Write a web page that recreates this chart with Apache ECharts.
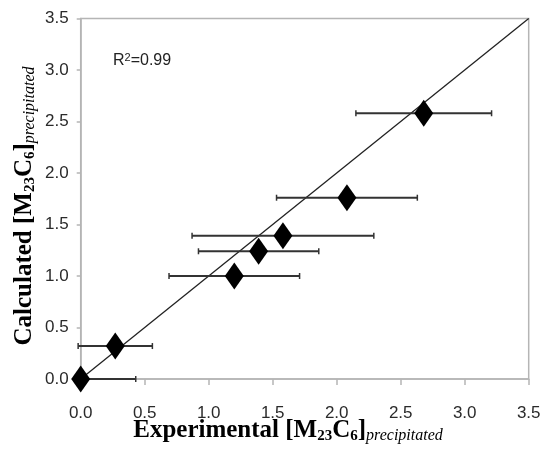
<!DOCTYPE html>
<html>
<head>
<meta charset="utf-8">
<script src="https://cdn.jsdelivr.net/npm/echarts@6/dist/echarts.min.js"></script>
<style>html,body{margin:0;padding:0;background:#fff;}#c{width:546px;height:466px;}</style>
</head>
<body>
<div id="c"></div>
<script>
// Data
var experimental = [0.00, 0.27, 1.20, 1.39, 1.58, 2.08, 2.68];
var calculated   = [0.00, 0.32, 1.00, 1.24, 1.39, 1.76, 2.58];
var xError       = [0.43, 0.29, 0.51, 0.47, 0.71, 0.55, 0.53];
var trendX = [0, 3.5];
var trendY = [0, 3.5];
var axisTicks = [0, 0.5, 1.0, 1.5, 2.0, 2.5, 3.0, 3.5];

var points = experimental.map(function (x, i) { return [x, calculated[i]]; });
var errData = experimental.map(function (x, i) { return [x, calculated[i], xError[i]]; });
var trend = trendX.map(function (x, i) { return [x, trendY[i]]; });

var tickFont = '"Liberation Sans Narrow","Arial Narrow","Liberation Sans",Arial,sans-serif';
var serif = '"Liberation Serif","Times New Roman",serif';
var titleRich = {
  b: { fontFamily: serif, fontWeight: 'bold', fontSize: 25, lineHeight: 25, color: '#000' },
  s: { fontFamily: serif, fontWeight: 'bold', fontSize: 15, lineHeight: 8, verticalAlign: 'bottom', color: '#000' },
  i: { fontFamily: serif, fontStyle: 'italic', fontSize: 16, lineHeight: 9, verticalAlign: 'bottom', color: '#000' }
};

var chart = echarts.init(document.getElementById('c'), null, { renderer: 'canvas' });
chart.setOption({
  animation: false,
  backgroundColor: '#fff',
  grid: { left: 80.7, right: 17.3, top: 18.5, bottom: 87, show: true, borderColor: '#b5b5b5', borderWidth: 1.5, backgroundColor: 'transparent' },
  xAxis: {
    type: 'value', min: axisTicks[0], max: axisTicks[axisTicks.length - 1], interval: 0.5,
    splitLine: { show: false },
    axisLine: { lineStyle: { color: '#b5b5b5', width: 1.5 } },
    axisTick: { inside: false, length: 6, lineStyle: { color: '#b5b5b5', width: 1.5 } },
    axisLabel: { margin: 26, fontSize: 17, color: '#2a2a2a', fontFamily: tickFont, formatter: function (v) { return v.toFixed(1); } }
  },
  yAxis: {
    type: 'value', min: axisTicks[0], max: axisTicks[axisTicks.length - 1], interval: 0.5,
    splitLine: { show: false },
    axisLine: { lineStyle: { color: '#b5b5b5', width: 1.5 } },
    axisTick: { inside: false, length: 4, lineStyle: { color: '#b5b5b5', width: 1.5 } },
    axisLabel: { margin: 12, fontSize: 17, color: '#2a2a2a', fontFamily: tickFont, formatter: function (v) { return v.toFixed(1); } }
  },
  series: [
    {
      type: 'line', data: trend, symbol: 'none', z: 2,
      lineStyle: { color: '#222', width: 1.3 }
    },
    {
      type: 'custom', data: errData, z: 3, clip: false,
      renderItem: function (params, api) {
        var x = api.value(0), y = api.value(1), e = api.value(2);
        var lo = api.coord([x - e, y]);
        var hi = api.coord([x + e, y]);
        var cs = params.coordSys;
        var children = [];
        var x0 = Math.max(lo[0], cs.x - 4);
        children.push({ type: 'line', shape: { x1: x0, y1: lo[1], x2: hi[0], y2: hi[1] }, style: { stroke: '#333', lineWidth: 2 } });
        if (lo[0] >= cs.x - 4) {
          children.push({ type: 'line', shape: { x1: lo[0], y1: lo[1] - 3, x2: lo[0], y2: lo[1] + 3 }, style: { stroke: '#333', lineWidth: 1.5 } });
        }
        children.push({ type: 'line', shape: { x1: hi[0], y1: hi[1] - 3, x2: hi[0], y2: hi[1] + 3 }, style: { stroke: '#333', lineWidth: 1.5 } });
        return { type: 'group', children: children };
      }
    },
    {
      type: 'scatter', data: points, z: 4, clip: false,
      symbol: 'diamond', symbolSize: [19, 27],
      itemStyle: { color: '#000', opacity: 1 }
    }
  ],
  graphic: [
    {
      type: 'text', left: 113, top: 52, z: 10,
      style: { text: 'R{sup|2}=0.99', fill: '#222', font: '16px "Liberation Sans",Arial,sans-serif',
        rich: { sup: { fontSize: 11, fontFamily: '"Liberation Sans",Arial,sans-serif', verticalAlign: 'top', lineHeight: 18, fill: '#222' } } }
    },
    {
      type: 'text', x: 288, y: 431, z: 10,
      style: { text: '{b|Experimental [M}{s|23}{b|C}{s|6}{b|]}{i|precipitated}', align: 'center', verticalAlign: 'middle', rich: titleRich }
    },
    {
      type: 'text', x: 25, y: 206, rotation: Math.PI / 2, z: 10,
      style: { text: '{b|Calculated [M}{s|23}{b|C}{s|6}{b|]}{i|precipitated}', align: 'center', verticalAlign: 'middle', rich: titleRich }
    }
  ]
});
</script>
</body>
</html>
